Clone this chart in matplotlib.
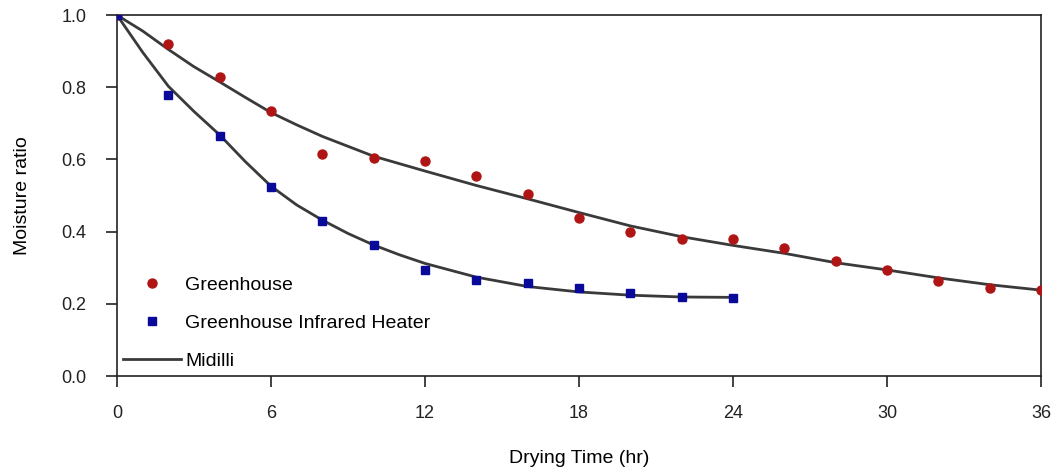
import matplotlib
matplotlib.use('Agg')
import matplotlib.pyplot as plt

plt.rcParams['font.family'] = ['Liberation Sans', 'DejaVu Sans']

# measured points
time_gh = [0, 2, 4, 6, 8, 10, 12, 14, 16, 18, 20, 22, 24, 26, 28, 30, 32, 34, 36]
mr_gh = [1.0, 0.92, 0.828, 0.734, 0.615, 0.604, 0.596, 0.554, 0.504, 0.438, 0.399,
         0.38, 0.38, 0.355, 0.319, 0.294, 0.263, 0.244, 0.238]

time_ir = [0, 2, 4, 6, 8, 10, 12, 14, 16, 18, 20, 22, 24]
mr_ir = [1.0, 0.78, 0.665, 0.524, 0.43, 0.363, 0.294, 0.266, 0.258, 0.244, 0.23, 0.219, 0.216]

# Midilli model curves
fit_t_gh = [0, 1, 2, 3, 4, 5, 6, 7, 8, 10, 12, 14, 16, 18, 20, 22, 24, 26, 28, 30, 32, 34, 36]
fit_gh = [1.0, 0.956, 0.905, 0.857, 0.815, 0.772, 0.730, 0.696, 0.664, 0.609, 0.568,
          0.528, 0.491, 0.453, 0.416, 0.386, 0.362, 0.340, 0.314, 0.294, 0.272, 0.253, 0.238]

fit_t_ir = [0, 1, 2, 3, 4, 5, 6, 7, 8, 9, 10, 11, 12, 14, 16, 18, 20, 22, 24]
fit_ir = [1.0, 0.897, 0.803, 0.733, 0.668, 0.594, 0.526, 0.474, 0.432, 0.395, 0.363,
          0.336, 0.312, 0.274, 0.248, 0.233, 0.224, 0.219, 0.218]

fig = plt.figure(figsize=(10.6, 4.73), dpi=100)
ax = fig.add_axes([0.1104, 0.205, 0.8717, 0.763])

line_color = '#3a3a3a'
ax.plot(fit_t_gh, fit_gh, color=line_color, lw=2, label='Midilli', zorder=2)
ax.plot(fit_t_ir, fit_ir, color=line_color, lw=2, zorder=2)
ax.plot(time_gh, mr_gh, 'o', color='#b01515', ms=6.5, ls='none', label='Greenhouse', zorder=3)
ax.plot(time_ir, mr_ir, 's', color='#0a0a9a', ms=6, ls='none',
        label='Greenhouse Infrared Heater', zorder=3)

ax.set_xlim(0, 36)
ax.set_ylim(0, 1.0)
ax.set_xticks(range(0, 37, 6))
ax.set_yticks([0.0, 0.2, 0.4, 0.6, 0.8, 1.0])
ax.set_yticklabels(['0.0', '0.2', '0.4', '0.6', '0.8', '1.0'])

for s in ax.spines.values():
    s.set_linewidth(1.2)
    s.set_color('#222222')

ax.tick_params(axis='x', direction='out', length=8, width=1.2, pad=13, labelsize=13, colors='#222222')
ax.tick_params(axis='y', direction='out', length=8, width=1.2, pad=14, labelsize=13, colors='#222222')

ax.set_xlabel('Drying Time (hr)', fontsize=14, labelpad=20)
ax.set_ylabel('Moisture ratio', fontsize=14, labelpad=22)

h, l = ax.get_legend_handles_labels()
order = [1, 2, 0]
ax.legend([h[i] for i in order], [l[i] for i in order], loc='lower left',
          bbox_to_anchor=(6 / 924, 6 / 361), frameon=False, fontsize=14, numpoints=1,
          handlelength=3.0, handletextpad=0.2, labelspacing=1.05, borderpad=0,
          borderaxespad=0)

fig.savefig('out.png', dpi=100)
